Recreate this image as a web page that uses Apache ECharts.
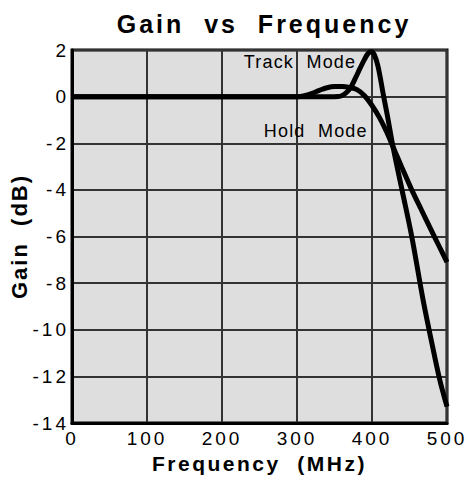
<!DOCTYPE html>
<html>
<head>
<meta charset="utf-8">
<script src="https://cdn.jsdelivr.net/npm/echarts@6/dist/echarts.min.js"></script>
<style>
  html, body { margin: 0; padding: 0; background: #fff; }
  #chart { width: 469px; height: 482px; }
  #chart text { white-space: pre; }
</style>
</head>
<body>
<div id="chart"></div>
<script>
// values
var xTicks = [0, 100, 200, 300, 400, 500];
var yTicks = [2, 0, -2, -4, -6, -8, -10, -12, -14];

var freqTrack = [0, 100, 200, 300, 350, 358, 365, 371, 378, 384, 390, 395, 399, 403, 408, 415, 421, 428, 440, 453, 468, 480, 490, 500];
var gainTrack = [0, 0, 0, 0, 0, 0.02, 0.15, 0.36, 0.8, 1.21, 1.6, 1.86, 1.93, 1.8, 1.3, 0.1, -0.9, -2.15, -4.0, -6.0, -8.7, -10.6, -12.1, -13.3];

var freqHold = [0, 100, 200, 300, 310, 320, 330, 340, 350, 360, 370, 380, 390, 400, 410, 420, 428, 440, 453, 465, 477, 490, 500];
var gainHold = [0, 0, 0, 0, 0.04, 0.14, 0.27, 0.38, 0.43, 0.43, 0.39, 0.3, 0.04, -0.38, -0.9, -1.55, -2.15, -3.05, -4.0, -4.8, -5.6, -6.45, -7.1];

// where the two curve names sit, in data units
var trackLabelAt = [304, 1.49];
var holdLabelAt = [325, -1.47];

// the original lettering is spread out; spacing per font size
var letterGap = { 25: 3, 22: 2, 21: 2.5, 19: 3, 18: 1.2 };

function pairs(xs, ys) {
  return xs.map(function (x, i) { return [x, ys[i]]; });
}

var font = 'Liberation Sans, Arial, sans-serif';
var chart = echarts.init(document.getElementById('chart'), null, { renderer: 'svg' });

var options = {
  animation: false,
  backgroundColor: '#fff',
  title: {
    text: 'Gain  vs  Frequency',
    left: 259,
    textAlign: 'center',
    top: 6,
    textStyle: { fontFamily: font, fontSize: 25, fontWeight: 'bold', color: '#000' }
  },
  grid: {
    left: 72,
    top: 50,
    width: 375,
    height: 373,
    show: true,
    backgroundColor: '#dedede',
    borderColor: '#000',
    borderWidth: 3,
    outerBoundsMode: 'none'
  },
  xAxis: {
    type: 'value',
    min: xTicks[0],
    max: xTicks[xTicks.length - 1],
    interval: 100,
    name: 'Frequency  (MHz)',
    nameLocation: 'middle',
    nameGap: 22,
    nameTextStyle: { fontFamily: font, fontSize: 21, fontWeight: 'bold', color: '#000' },
    axisLine: { show: true, onZero: false, lineStyle: { color: '#000', width: 3 } },
    axisTick: { show: false },
    axisLabel: { margin: 6, fontFamily: font, fontSize: 19, color: '#000' },
    splitLine: { show: true, lineStyle: { color: '#333', width: 2 } }
  },
  yAxis: {
    type: 'value',
    min: yTicks[yTicks.length - 1],
    max: yTicks[0],
    interval: 2,
    name: 'Gain  (dB)',
    nameLocation: 'middle',
    nameGap: 42,
    nameTextStyle: { fontFamily: font, fontSize: 22, fontWeight: 'bold', color: '#000' },
    axisLine: { show: true, onZero: false, lineStyle: { color: '#000', width: 3 } },
    axisTick: { show: false },
    axisLabel: { margin: 3, fontFamily: font, fontSize: 19, color: '#000' },
    splitLine: { show: true, lineStyle: { color: '#333', width: 2 } }
  },
  series: [
    {
      name: 'Track Mode',
      type: 'line',
      data: pairs(freqTrack, gainTrack),
      smooth: 0.35,
      showSymbol: false,
      lineStyle: { color: '#000', width: 5 },
      markPoint: {
        symbol: 'circle',
        symbolSize: 1,
        itemStyle: { color: 'transparent' },
        label: { show: true, position: 'inside', formatter: 'Track  Mode', fontFamily: font, fontSize: 18, color: '#000' },
        data: [{ coord: trackLabelAt }]
      }
    },
    {
      name: 'Hold Mode',
      type: 'line',
      data: pairs(freqHold, gainHold),
      smooth: 0.35,
      showSymbol: false,
      lineStyle: { color: '#000', width: 5 },
      markPoint: {
        symbol: 'circle',
        symbolSize: 1,
        itemStyle: { color: 'transparent' },
        label: { show: true, position: 'inside', formatter: 'Hold  Mode', fontFamily: font, fontSize: 18, color: '#000' },
        data: [{ coord: holdLabelAt }]
      }
    }
  ]
};

chart.setOption(options);

// spread the letters the way the original does
document.querySelectorAll('#chart text').forEach(function (t) {
  var size = Math.round(parseFloat(getComputedStyle(t).fontSize));
  if (letterGap[size] != null) {
    t.style.letterSpacing = letterGap[size] + 'px';
  }
});
</script>
</body>
</html>
